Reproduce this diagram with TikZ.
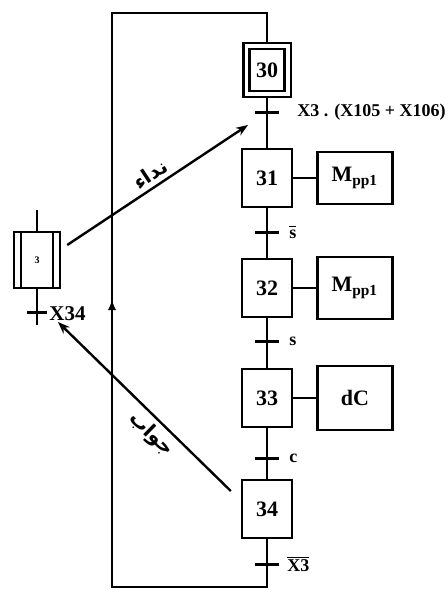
\documentclass[tikz,border=0pt]{standalone}
\usepackage{fontspec}
\setmainfont{Liberation Serif}
\newfontfamily\arabicfont[Script=Arabic]{DejaVu Sans}
\TeXXeTstate=1
\usetikzlibrary{arrows.meta, positioning, calc, fit, decorations.markings}

\begin{document}
\begin{tikzpicture}[
        x=0.5pt, y=-0.5pt,
        node distance=11.5pt,
        stepbox/.style={rectangle, draw=black, line width=1.2pt, minimum width=25pt, minimum height=29pt, inner sep=0pt, font=\fontsize{11}{13}\selectfont\bfseries},
        actbox/.style={rectangle, draw=black, line width=1.2pt, minimum width=37.5pt, minimum height=28pt, inner sep=0pt, font=\fontsize{11}{13}\selectfont\bfseries},
        line/.style={draw=black, line width=1.2pt},
        tick/.style={draw=black, line width=1.5pt},
        tlabel/.style={anchor=west, inner sep=1pt, font=\fontsize{9}{11}\selectfont\bfseries},
        link/.style={draw=black, line width=1.2pt, -{Stealth[length=6pt, width=4.5pt]}},
        linkback/.style={draw=black, line width=1.2pt, {Stealth[length=6pt, width=4.5pt]}-},
        arlabel/.style={sloped, inner sep=2pt, font=\arabicfont\fontsize{10}{12}\selectfont\bfseries}
    ]
        \useasboundingbox (0,0) rectangle (448,590);

        % grafcet
        \node [stepbox, minimum width=17.5pt, minimum height=21pt] (s30) at (267,70) {30};
        \node [draw=black, line width=1.2pt, fit=(s30), inner sep=2.5pt] (s30o) {};
        \node [stepbox] (s31) at (267,178) {31};
        \node [stepbox] (s32) at (267,288) {32};
        \node [stepbox] (s33) at (267,398) {33};
        \node [stepbox] (s34) at (267,509) {34};

        \node [actbox, minimum height=26pt, right=of s31] (a31) {M\textsubscript{pp1}};
        \node [actbox, minimum height=31pt, right=of s32] (a32) {M\textsubscript{pp1}};
        \node [actbox, minimum height=32pt, right=of s33] (a33) {dC};
        \draw[line] (s31) -- (a31);
        \draw[line] (s32) -- (a32);
        \draw[line] (s33) -- (a33);

        \draw[line] (s30o) -- (s31) -- (s32) -- (s33) -- (s34);

        % transitions
        \coordinate (t30) at (267,112);
        \coordinate (t31) at (267,232);
        \coordinate (t32) at (267,341);
        \coordinate (t33) at (267,458);
        \coordinate (t34) at (267,564);
        \foreach \t in {t30, t31, t32, t33, t34}
            \draw[tick] ($(\t)+(-12,0)$) -- ($(\t)+(12,0)$);
        \node [tlabel] (l30) at ($(t30)+(28,0)$) {X3 . (X105 + X106)};
        \node [tlabel] (l31) at ($(t31)+(20,0)$) {$\overline{\mbox{s}}$};
        \node [tlabel] (l32) at ($(t32)+(20,0)$) {s};
        \node [tlabel] (l33) at ($(t33)+(20,0)$) {c};
        \node [tlabel] (l34) at ($(t34)+(18,0)$) {$\overline{\mbox{X3}}$};

        % loop back to 30
        \coordinate (bl) at (112,587);
        \coordinate (tl) at (112,13);
        \draw[line] (s34) -- (s34 |- bl) -- (bl) -- (tl) -- (tl -| s30o) -- (s30o);
        \path[postaction={decorate}, decoration={markings, mark=at position 0.5 with {\arrow{Latex[length=5pt, width=4pt]}}}] (bl) -- (tl);

        % macro step
        \node [stepbox, minimum width=23pt, minimum height=28pt, font=\fontsize{5}{6}\selectfont\bfseries] (m3) at (37,260) {3};
        \draw[line] ([xshift=4pt]m3.north west) -- ([xshift=4pt]m3.south west);
        \draw[line] ([xshift=-4pt]m3.north east) -- ([xshift=-4pt]m3.south east);
        \coordinate (m3in) at (37,210);
        \coordinate (m3out) at (37,325);
        \draw[line] (m3in) -- (m3);
        \draw[line] (m3) -- (m3out);
        \coordinate (t3) at (37,312);
        \draw[tick] ($(t3)+(-10,0)$) -- ($(t3)+(10,0)$);
        \node [tlabel, font=\fontsize{10.5}{12}\selectfont\bfseries] (l3) at ($(t3)+(10,2)$) {X34};

        % call and answer
        \draw[link] ($(m3.east)+(6,-15)$) -- node[arlabel, above, pos=0.5] {\beginR نداء\endR} ($(t30)+(-19,13)$);
        \draw[linkback] ($(m3out)+(21,-3)$) -- node[arlabel, below, pos=0.6] {\beginR جواب\endR} ($(s34.west)+(-10,-18)$);
    \end{tikzpicture}
\end{document}
